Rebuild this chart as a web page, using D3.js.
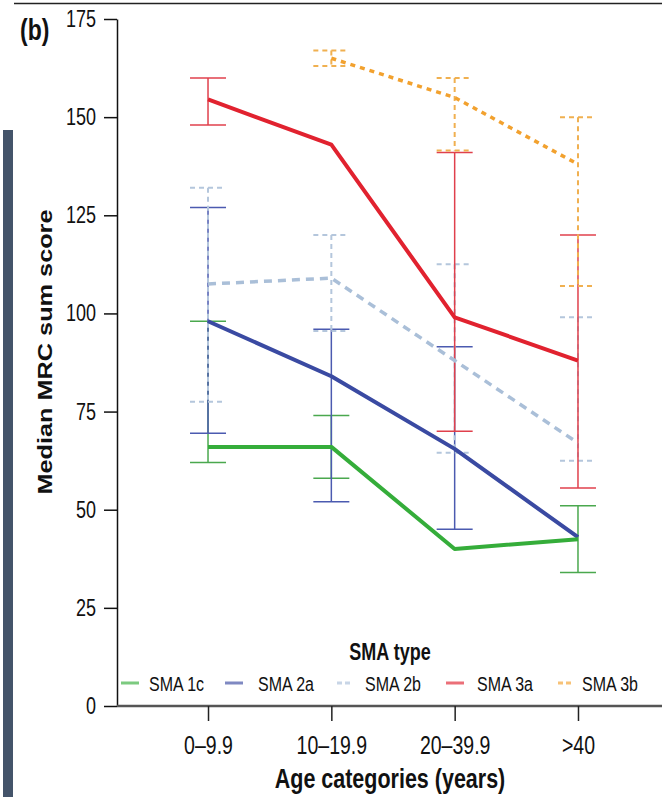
<!DOCTYPE html>
<html>
<head>
<meta charset="utf-8">
<script src="https://cdn.jsdelivr.net/npm/d3@7"></script>
<style>
  body { margin: 0; background: #fff; }
  text { font-family: "Liberation Sans", Arial, sans-serif; }
</style>
</head>
<body>
<div id="chart"></div>
<script>
// data
var categories = ["0\u20139.9", "10\u201319.9", "20\u201339.9", ">40"];
var seriesNames = ["SMA 1c", "SMA 2a", "SMA 2b", "SMA 3a", "SMA 3b"];
var yTicks = [0, 25, 50, 75, 100, 125, 150, 175];

var sma1cMedian = [66, 66, 40, 42.5];
var sma1cUpper = [98, 74, null, 51];
var sma1cLower = [62, 58, null, 34];

var sma2aMedian = [98, 84, 65.5, 43];
var sma2aUpper = [127, 96, 91.5, null];
var sma2aLower = [69.5, 52, 45, null];

var sma2bMedian = [107.5, 109, 88, 67];
var sma2bUpper = [132, 120, 112.5, 99];
var sma2bLower = [77.5, 95.5, 64.5, 62.5];

var sma3aMedian = [154.5, 143, 99, 88];
var sma3aUpper = [160, null, 141, 120];
var sma3aLower = [148, null, 70, 55.5];

var sma3bMedian = [null, 165, 155, 138];
var sma3bUpper = [null, 167, 160, 150];
var sma3bLower = [null, 163, 141.5, 107];

var medians = [sma1cMedian, sma2aMedian, sma2bMedian, sma3aMedian, sma3bMedian];
var uppers = [sma1cUpper, sma2aUpper, sma2bUpper, sma3aUpper, sma3bUpper];
var lowers = [sma1cLower, sma2aLower, sma2bLower, sma3aLower, sma3bLower];

// styling per series
var colors = ["#35ad3a", "#3a4aa2", "#aabfd8", "#e1222f", "#f2a12e"];
var errColors = ["#4aa84e", "#4b5ab0", "#b4c6dc", "#e0404c", "#f0b050"];
var dashes = [null, null, "8,6", null, "5,5"];

var width = 662, height = 797;
var stretch = 1.3; // the picture is squeezed sideways, text looks tall

var svg = d3.select("#chart")
    .append("svg")
    .attr("width", width)
    .attr("height", height);

// left dark bar and top rule from the cropped page
svg.append("rect")
    .attr("x", 3).attr("y", 130)
    .attr("width", 10).attr("height", height - 130)
    .attr("fill", "#44546a");
svg.append("line")
    .attr("x1", 14).attr("x2", width)
    .attr("y1", 3.5).attr("y2", 3.5)
    .attr("stroke", "#222").attr("stroke-width", 1.5);

var x = d3.scalePoint()
    .domain(categories)
    .range([117, 669])
    .padding(0.738);

var y = d3.scaleLinear()
    .domain([0, 175])
    .range([706, 19]);

// y axis
var yAxis = svg.append("g")
    .attr("transform", "translate(117,0)")
    .call(d3.axisLeft(y).tickValues(yTicks).tickSize(13).tickPadding(8).tickSizeOuter(0));
yAxis.select(".domain").attr("stroke", "#111").attr("stroke-width", 1.5);
yAxis.selectAll(".tick line").attr("stroke", "#111").attr("stroke-width", 1.5);
yAxis.selectAll(".tick text")
    .attr("font-size", 18)
    .attr("fill", "#111")
    .attr("transform", "scale(1," + stretch + ")")
    .attr("dy", "0.32em");

// x axis
var xAxis = svg.append("g")
    .attr("transform", "translate(0,706)")
    .call(d3.axisBottom(x).tickSize(15).tickSizeOuter(0));
xAxis.select(".domain")
    .attr("d", "M117,0H" + width)
    .attr("stroke", "#555").attr("stroke-width", 2.5);
xAxis.selectAll(".tick line").attr("stroke", "#222").attr("stroke-width", 1.5);
xAxis.selectAll(".tick text")
    .attr("font-size", 19.5)
    .attr("fill", "#111")
    .attr("y", 48 / stretch)
    .attr("dy", 0)
    .attr("transform", "scale(1," + stretch + ")");

// error bars
var capHalf = 18;
seriesNames.forEach(function (name, i) {
    var g = svg.append("g")
        .attr("stroke", errColors[i])
        .attr("stroke-width", dashes[i] ? 2 : 1.5)
        .attr("fill", "none")
        .attr("stroke-dasharray", dashes[i] ? "5,4" : null);
    var rows = categories.map(function (c, j) {
        return { cat: c, hi: uppers[i][j], lo: lowers[i][j] };
    }).filter(function (d) { return d.hi != null; });
    rows.forEach(function (d) {
        g.append("line")
            .attr("x1", x(d.cat)).attr("x2", x(d.cat))
            .attr("y1", y(d.hi)).attr("y2", y(d.lo));
        g.append("line")
            .attr("x1", x(d.cat) - capHalf).attr("x2", x(d.cat) + capHalf)
            .attr("y1", y(d.hi)).attr("y2", y(d.hi));
        g.append("line")
            .attr("x1", x(d.cat) - capHalf).attr("x2", x(d.cat) + capHalf)
            .attr("y1", y(d.lo)).attr("y2", y(d.lo));
    });
});

// median lines
var line = d3.line()
    .defined(function (d) { return d.v != null; })
    .x(function (d) { return x(d.cat); })
    .y(function (d) { return y(d.v); });

var drawOrder = [2, 4, 3, 1, 0];
drawOrder.forEach(function (i) {
    var pts = categories.map(function (c, j) { return { cat: c, v: medians[i][j] }; });
    svg.append("path")
        .datum(pts)
        .attr("d", line)
        .attr("fill", "none")
        .attr("stroke", colors[i])
        .attr("stroke-width", dashes[i] ? 3.5 : 4)
        .attr("stroke-linejoin", "round")
        .attr("stroke-dasharray", dashes[i]);
});

// helper for stretched text
function addText(txt, tx, ty, size, weight, anchor) {
    return svg.append("text")
        .text(txt)
        .attr("font-size", size)
        .attr("font-weight", weight)
        .attr("fill", "#111")
        .attr("text-anchor", anchor)
        .attr("transform", "translate(" + tx + "," + ty + ") scale(1," + stretch + ")");
}

addText("(b)", 20, 40, 23, "bold", "start");
addText("Age categories (years)", 390, 788, 21.5, "bold", "middle");

// y title, length forced to what the picture shows
svg.append("text")
    .text("Median MRC sum score")
    .attr("font-size", 19.5)
    .attr("font-weight", "bold")
    .attr("fill", "#111")
    .attr("text-anchor", "middle")
    .attr("textLength", 285)
    .attr("lengthAdjust", "spacingAndGlyphs")
    .attr("transform", "translate(52,352) rotate(-90)");

// legend
addText("SMA type", 390, 660, 18, "bold", "middle");
var legendX = [121, 225, 337, 446, 558];
var legendTextX = [149, 258, 365, 477, 582];
seriesNames.forEach(function (name, i) {
    svg.append("line")
        .attr("x1", legendX[i]).attr("x2", legendX[i] + (dashes[i] ? 13 : 18))
        .attr("y1", 683).attr("y2", 683)
        .attr("stroke", colors[i])
        .attr("stroke-opacity", 0.65)
        .attr("stroke-width", 3)
        .attr("stroke-dasharray", dashes[i] ? "5,3" : null);
    addText(name, legendTextX[i], 691, 16, "normal", "start");
});
</script>
</body>
</html>
